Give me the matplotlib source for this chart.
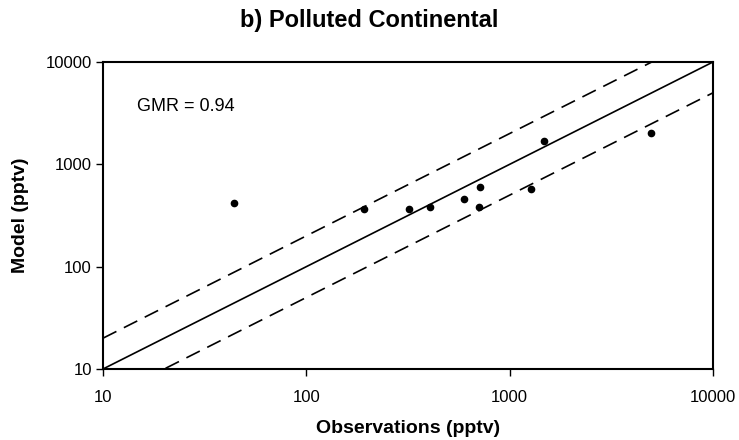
import numpy as np
import matplotlib
matplotlib.use("Agg")
import matplotlib.pyplot as plt

plt.rcParams['font.family'] = ['Liberation Sans', 'DejaVu Sans']

# observed vs modelled mixing ratios (pptv)
obs = [44, 192, 320, 405, 597, 708, 716, 1279, 1483, 4943]
model = [420, 366, 366, 383, 458, 383, 600, 574, 1690, 2023]
gmr = 0.94

ticks = [10, 100, 1000, 10000]
tick_labels = ['10', '100', '1000', '10000']

fig = plt.figure(figsize=(7.39, 4.40), dpi=100)
ax = fig.add_axes([0.1394, 0.1614, 0.8254, 0.6977])

# 1:1 line and factor-of-two envelope
xx = np.array([10.0, 10000.0])
ax.plot(xx, xx, color='black', lw=1.2)
ax.plot(xx, 2 * xx, color='black', lw=1.2, dashes=(9, 5))
ax.plot(xx, 0.5 * xx, color='black', lw=1.2, dashes=(9, 5))

ax.plot(obs, model, 'o', color='black', ms=4.5, zorder=3)

ax.set_xscale('log')
ax.set_yscale('log')
ax.set_xlim(10, 10000)
ax.set_ylim(10, 10000)
ax.set_xticks(ticks)
ax.set_xticklabels(tick_labels)
ax.set_yticks(ticks)
ax.set_yticklabels(tick_labels)
ax.minorticks_off()
ax.tick_params(axis='both', direction='out', length=5, width=1, labelsize=12)
ax.tick_params(axis='x', pad=10)
ax.tick_params(axis='y', pad=3)

for s in ax.spines.values():
    s.set_linewidth(1.5)

ax.text(0.055, 0.855, 'GMR = %.2f' % gmr, transform=ax.transAxes, fontsize=13,
        ha='left', va='center')

ax.set_xlabel('Observations (pptv)', fontsize=14, fontweight='bold', labelpad=11)
ax.set_ylabel('Model (pptv)', fontsize=14, fontweight='bold', labelpad=12)
fig.suptitle('b) Polluted Continental', fontsize=17, fontweight='bold', y=0.953, va='center')

fig.savefig('out.png', dpi=100)
